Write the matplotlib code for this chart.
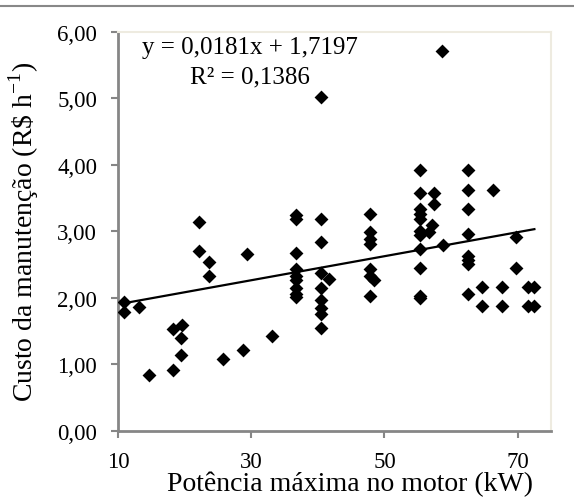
import matplotlib
matplotlib.use('Agg')
import matplotlib.pyplot as plt
from matplotlib.lines import Line2D
from matplotlib.ticker import FuncFormatter
import numpy as np

# potência máxima no motor (kW) e custo da manutenção (R$ h-1)
power_kw = [10.9, 10.9, 13.2, 14.7, 18.3, 18.3, 19.6, 19.4, 19.4,
            22.1, 22.1, 23.6, 23.6, 25.8, 28.7, 29.4, 33.1,
            36.7, 36.7, 36.7, 36.7, 36.7, 36.7, 36.7, 36.7, 36.7,
            40.4, 40.4, 40.4, 40.4, 41.7, 40.4, 40.4, 40.4, 40.4, 40.4,
            47.8, 47.8, 47.8, 47.8, 47.8, 47.8, 48.5, 47.8,
            55.3, 55.3, 55.3, 55.3, 55.3, 55.3, 55.3, 55.3, 55.3, 55.3, 55.3,
            57.4, 57.4, 57.2, 56.7, 58.8, 58.7,
            62.5, 62.5, 62.5, 62.5, 62.5, 62.5, 62.5, 62.5,
            66.3, 64.6, 64.6, 67.6, 67.6, 69.8, 69.8, 71.5, 71.5, 72.5, 72.5]
cost = [1.93, 1.78, 1.86, 0.83, 0.91, 1.53, 1.59, 1.39, 1.14,
        3.14, 2.71, 2.53, 2.32, 1.07, 1.21, 2.66, 1.43,
        3.24, 3.19, 2.68, 2.43, 2.33, 2.26, 2.15, 2.05, 2.01,
        5.02, 3.19, 2.84, 2.37, 2.28, 2.15, 1.96, 1.85, 1.76, 1.55,
        3.26, 2.99, 2.89, 2.81, 2.43, 2.33, 2.26, 2.03,
        3.92, 3.57, 3.34, 3.26, 3.19, 3.01, 2.94, 2.74, 2.44, 2.03, 2.00,
        3.57, 3.41, 3.09, 2.99, 2.79, 5.72,
        3.93, 3.62, 3.34, 2.96, 2.63, 2.56, 2.50, 2.05,
        3.62, 2.16, 1.87, 2.16, 1.87, 2.91, 2.44, 2.16, 1.87, 2.16, 1.87]

# linha de tendência (equação do gráfico)
slope = 0.0181
intercept = 1.7197

x_ticks = [10, 30, 50, 70]
y_ticks = [0, 1, 2, 3, 4, 5, 6]

plt.rcParams['font.family'] = ['Liberation Serif', 'DejaVu Serif']
plt.rcParams['mathtext.fontset'] = 'custom'
plt.rcParams['mathtext.rm'] = 'Liberation Serif'

fig = plt.figure(figsize=(5.74, 5.02), dpi=100)
ax = fig.add_axes([0.2056, 0.1404, 0.7544, 0.7938])

ax.scatter(power_kw, cost, marker='D', s=50, color='black', zorder=3, linewidths=0)

xl = np.array([min(power_kw), max(power_kw)])
ax.plot(xl, slope * xl + intercept, color='black', lw=1.6, zorder=2)

ax.set_xlim(10, 75)
ax.set_ylim(0, 6)
ax.set_xticks(x_ticks)
ax.set_yticks(y_ticks)
ax.yaxis.set_major_formatter(FuncFormatter(lambda v, p: ('%.2f' % v).replace('.', ',')))

for s in ['left', 'bottom']:
    ax.spines[s].set_color('#868686')
    ax.spines[s].set_linewidth(2)
for s in ['top', 'right']:
    ax.spines[s].set_color('#EEEBE0')
    ax.spines[s].set_linewidth(1.5)

ax.tick_params(axis='both', direction='out', length=5, width=1.5, color='#868686',
               labelsize=16.5, labelcolor='black')
ax.tick_params(axis='y', pad=10)
ax.tick_params(axis='x', pad=10)

ax.set_xlabel('Potência máxima no motor (kW)', fontsize=20)
ax.xaxis.set_label_coords(0.535, -0.1)
ax.xaxis.label.set_va('top')
ax.set_ylabel(r'Custo da manutenção (R\$ h$^{\mathrm{-1}}$)', fontsize=20, labelpad=12)

ax.text(0.305, 0.962, 'y = 0,0181x + 1,7197', transform=ax.transAxes,
        ha='center', va='center', fontsize=18)
ax.text(0.305, 0.889, 'R² = 0,1386', transform=ax.transAxes,
        ha='center', va='center', fontsize=18)

# linha horizontal no topo da figura
fig.add_artist(Line2D([0, 1], [1 - 7 / 502, 1 - 7 / 502], transform=fig.transFigure,
                      color='#888888', lw=1.5))

fig.savefig('out.png', dpi=100)
